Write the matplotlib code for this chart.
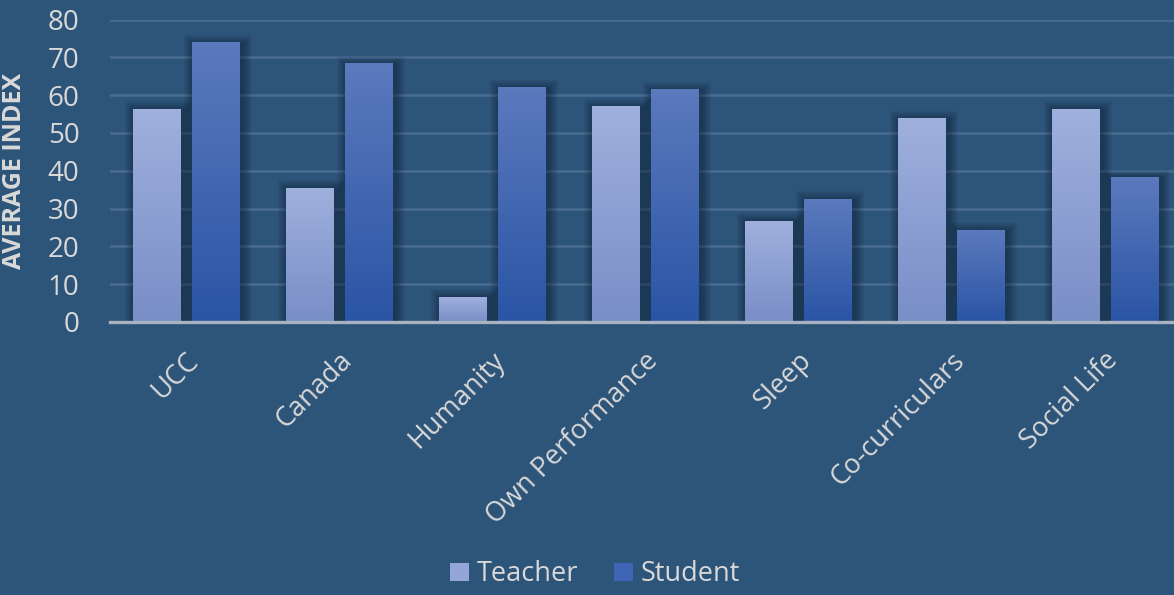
import numpy as np
import matplotlib.pyplot as plt
import matplotlib.transforms as mtransforms
from matplotlib.patches import Rectangle, Patch
from matplotlib.colors import LinearSegmentedColormap

categories = ['UCC', 'Canada', 'Humanity', 'Own Performance', 'Sleep',
              'Co-curriculars', 'Social Life']
teacher = [56.3, 35.4, 6.6, 56.9, 26.7, 53.7, 56.3]
student = [73.8, 68.3, 61.9, 61.4, 32.5, 24.3, 38.1]
series_names = ['Teacher', 'Student']
yticks = [0, 10, 20, 30, 40, 50, 60, 70, 80]

plt.rcParams['font.family'] = ['Open Sans', 'DejaVu Sans']

BG = '#2D5479'
TXT = '#D9D9D9'
W, H = 1174, 595

fig = plt.figure(figsize=(W / 100, H / 100), dpi=100, facecolor=BG)
# plot area runs a little past the right edge, as in the original
ax_box = [110 / W, 273 / H, 1072 / W, 302.5 / H]
ax = fig.add_axes(ax_box)
ax.set_facecolor(BG)

# data units per pixel
px_x = 7.0 / 1072
px_y = 80.0 / 302.5

bar_w = 0.313
offsets = [-0.195, 0.19]
colors = [('#9FB0DD', '#7A8EC7'), ('#5B79BD', '#2A55A5')]


def shadow(x, h, w):
    for k in range(1, 11):
        r = Rectangle((x - w / 2 - k * px_x + 2 * px_x, 0),
                      w + 2 * k * px_x, h + k * px_y - 2 * px_y,
                      facecolor='#0C1C30', edgecolor='none', alpha=0.055,
                      zorder=1.5)
        ax.add_patch(r)


def grad_bar(x, h, w, top, bottom):
    cmap = LinearSegmentedColormap.from_list('g', [bottom, top])
    ax.imshow(np.linspace(0, 1, 64).reshape(-1, 1),
              extent=[x - w / 2, x + w / 2, 0, h], origin='lower',
              cmap=cmap, aspect='auto', interpolation='bilinear', zorder=2)


x = np.arange(len(categories))
for vals, off, (top, bottom) in zip([teacher, student], offsets, colors):
    for xi, v in zip(x, vals):
        shadow(xi + off, v, bar_w)
        grad_bar(xi + off, v, bar_w, top, bottom)

ax.set_xlim(-0.5, len(categories) - 0.5)
ax.set_ylim(0, 80)
ax.set_aspect('auto')

ax.set_yticks(yticks)
ax.yaxis.grid(True, color='#4A6C91', lw=1.8)
ax.set_axisbelow(True)
ax.tick_params(axis='y', length=0, pad=22, labelsize=20, labelcolor=TXT)
ax.tick_params(axis='x', length=0, pad=25, labelsize=19.5, labelcolor=TXT)

ax.set_xticks(x, labels=categories, rotation=45, ha='right', va='center',
              rotation_mode='anchor')
shift = mtransforms.ScaledTranslation(8 / 100, 0, fig.dpi_scale_trans)
for lab in ax.get_xticklabels():
    lab.set_transform(lab.get_transform() + shift)

for s in ['top', 'right', 'left']:
    ax.spines[s].set_visible(False)
ax.spines['bottom'].set_color('#A8B2C0')
ax.spines['bottom'].set_linewidth(2.4)
ax.spines['bottom'].set_zorder(5)

ax.set_ylabel('AVERAGE INDEX', fontsize=18, fontweight='bold', color=TXT)
ax.yaxis.set_label_coords(-0.077, 0.5)

handles = [Patch(facecolor='#94A6D8'), Patch(facecolor='#3F66B4')]
fig.legend(handles, series_names, loc='lower center',
           bbox_to_anchor=(0.507, -0.03), ncol=2, frameon=False, fontsize=19.5,
           labelcolor=TXT, handlelength=0.7, handleheight=0.7,
           handletextpad=0.3, columnspacing=1.3)

fig.savefig('out.png', dpi=100, facecolor=BG)
